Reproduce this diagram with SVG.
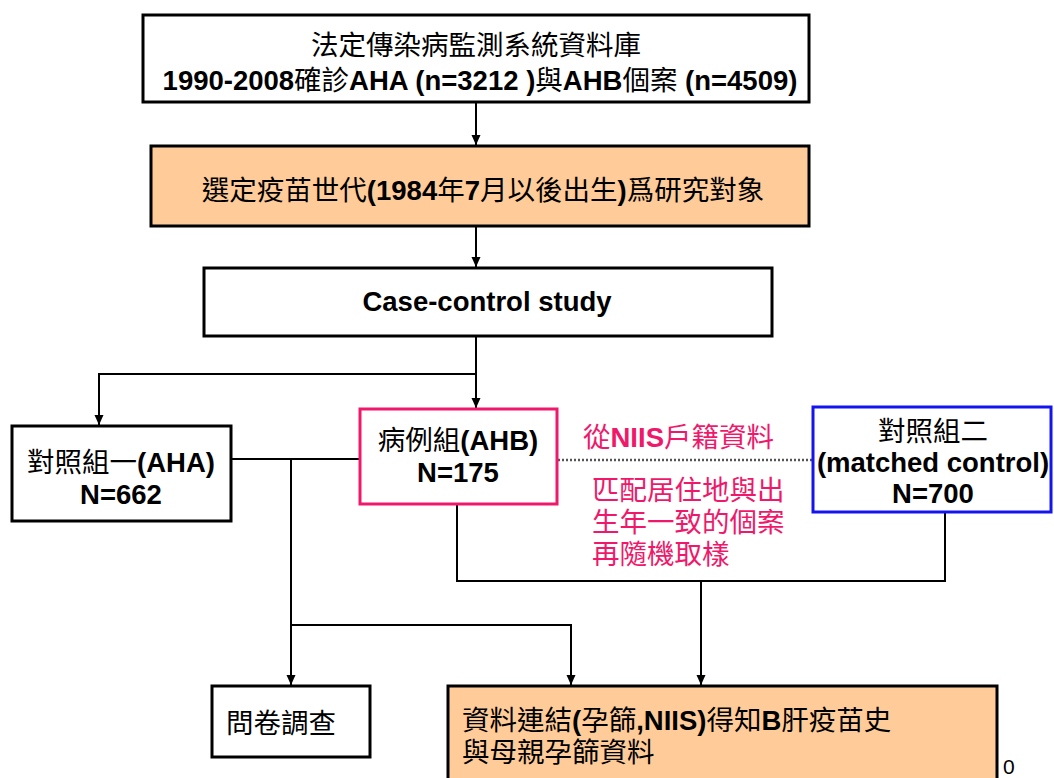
<svg xmlns="http://www.w3.org/2000/svg" width="1054" height="778" viewBox="0 0 1054 778">
<style>
.t{font-family:"Liberation Sans","Noto Sans CJK TC",sans-serif;font-size:27.5px;fill:#000}
.b{font-weight:bold}
.pk{fill:#F0186A}
.box{fill:#fff;stroke:#000;stroke-width:3}
.peach{fill:#FFCC99;stroke:#000;stroke-width:3}
.c{fill:none;stroke:#000;stroke-width:2}
</style>
<defs>
<marker id="ah" markerUnits="userSpaceOnUse" markerWidth="10" markerHeight="10" refX="10" refY="5" orient="auto">
<path d="M0,0.5 L10,5 L0,9.5 z" fill="#000"/>
</marker>
</defs>
<rect width="1054" height="778" fill="#fff"/>
<g id="connectors">
<line class="c" x1="476" y1="102" x2="476" y2="145" marker-end="url(#ah)"/>
<line class="c" x1="476" y1="226" x2="476" y2="267" marker-end="url(#ah)"/>
<line class="c" x1="476" y1="336" x2="476" y2="408" marker-end="url(#ah)"/>
<polyline class="c" points="476,374 99,374 99,425" marker-end="url(#ah)"/>
<line class="c" x1="231" y1="459" x2="360" y2="459"/>
<line class="c" x1="291" y1="459" x2="291" y2="685" marker-end="url(#ah)"/>
<polyline class="c" points="291,625 571,625 571,685" marker-end="url(#ah)"/>
<polyline class="c" points="457,505 457,581 945,581 945,513"/>
<line class="c" x1="701" y1="581" x2="701" y2="685" marker-end="url(#ah)"/>
<line x1="558" y1="460" x2="812" y2="460" stroke="#555" stroke-width="2.5" stroke-dasharray="2,2"/>
</g>
<g id="n1">
<rect class="box" x="143" y="15" width="666" height="87"/>
<text class="t" x="476" y="55" text-anchor="middle">法定傳染病監測系統資料庫</text>
<text class="t" x="480" y="90" text-anchor="middle" font-size="27"><tspan class="b">1990-2008</tspan>確診<tspan class="b">AHA (n=3212 )</tspan>與<tspan class="b">AHB</tspan>個案<tspan class="b"> (n=4509)</tspan></text>
</g>
<g id="n2">
<rect class="peach" x="151" y="146" width="658" height="80"/>
<text class="t" x="483" y="200" text-anchor="middle">選定疫苗世代<tspan class="b">(1984</tspan>年<tspan class="b">7</tspan>月以後出生<tspan class="b">)</tspan>爲研究對象</text>
</g>
<g id="n3">
<rect class="box" x="204" y="268" width="568" height="68"/>
<text class="t b" x="487" y="311" text-anchor="middle">Case-control study</text>
</g>
<g id="control1">
<rect class="box" x="12" y="426" width="219" height="95"/>
<text class="t" x="121" y="472" text-anchor="middle">對照組一<tspan class="b">(AHA)</tspan></text>
<text class="t b" x="121" y="504" text-anchor="middle">N=662</text>
</g>
<g id="case">
<rect x="360" y="409" width="197" height="95" fill="#fff" stroke="#F0186A" stroke-width="3"/>
<text class="t" x="458" y="450" text-anchor="middle">病例組<tspan class="b">(AHB)</tspan></text>
<text class="t b" x="458" y="482" text-anchor="middle">N=175</text>
</g>
<g id="note">
<text class="t pk" x="583" y="447">從<tspan class="b">NIIS</tspan>戶籍資料</text>
<text class="t pk" x="592" y="500">匹配居住地與出</text>
<text class="t pk" x="592" y="532">生年一致的個案</text>
<text class="t pk" x="592" y="564">再隨機取樣</text>
</g>
<g id="control2">
<rect x="813" y="407" width="238" height="105" fill="#fff" stroke="#1414F0" stroke-width="3"/>
<text class="t" x="933" y="441" text-anchor="middle">對照組二</text>
<text class="t b" x="933" y="472" text-anchor="middle">(matched control)</text>
<text class="t b" x="933" y="503" text-anchor="middle">N=700</text>
</g>
<g id="survey">
<rect class="box" x="212" y="686" width="158" height="71"/>
<text class="t" x="226" y="733">問卷調查</text>
</g>
<g id="linkage">
<rect class="peach" x="448" y="686" width="549" height="110"/>
<text class="t" x="462" y="730">資料連結<tspan class="b">(</tspan>孕篩<tspan class="b">,NIIS)</tspan>得知<tspan class="b">B</tspan>肝疫苗史</text>
<text class="t" x="462" y="762">與母親孕篩資料</text>
</g>
<text x="1003" y="774" font-family="Liberation Sans, sans-serif" font-size="21" fill="#000">0</text>
</svg>
